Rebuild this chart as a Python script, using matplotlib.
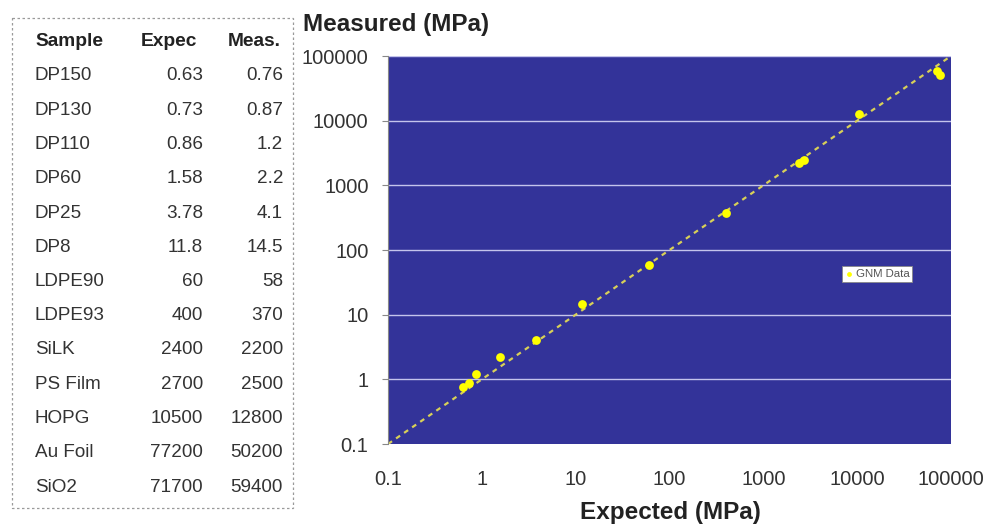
import matplotlib
matplotlib.use("Agg")
import matplotlib.pyplot as plt
from matplotlib.patches import Rectangle
from matplotlib.ticker import FixedLocator, FixedFormatter, NullLocator

plt.rcParams["font.family"] = ["Liberation Sans", "DejaVu Sans"]

samples = ["DP150", "DP130", "DP110", "DP60", "DP25", "DP8", "LDPE90", "LDPE93",
           "SiLK", "PS Film", "HOPG", "Au Foil", "SiO2"]
expected = [0.63, 0.73, 0.86, 1.58, 3.78, 11.8, 60, 400, 2400, 2700, 10500, 77200, 71700]
measured = [0.76, 0.87, 1.2, 2.2, 4.1, 14.5, 58, 370, 2200, 2500, 12800, 50200, 59400]
expected_txt = ["0.63", "0.73", "0.86", "1.58", "3.78", "11.8", "60", "400", "2400",
                "2700", "10500", "77200", "71700"]
measured_txt = ["0.76", "0.87", "1.2", "2.2", "4.1", "14.5", "58", "370", "2200",
                "2500", "12800", "50200", "59400"]
decades = [0.1, 1, 10, 100, 1000, 10000, 100000]
decade_labels = ["0.1", "1", "10", "100", "1000", "10000", "100000"]

W, H = 989, 529
fig = plt.figure(figsize=(W / 100, H / 100), dpi=100)
txt = "#333333"

# table on the left
tab = fig.add_axes([0, 0, 1, 1])
tab.set_xlim(0, W)
tab.set_ylim(H, 0)
tab.axis("off")
tab.add_patch(Rectangle((12, 18), 281, 490, fill=False, ls=(0, (2, 2)),
                        ec="#9a9a9a", lw=0.9))
tab.text(35, 42, "Sample", fontsize=13.8, fontweight="bold", color="#222222", va="center")
tab.text(197, 42, "Expec", fontsize=13.8, fontweight="bold", color="#222222", va="center", ha="right")
tab.text(281, 42, "Meas.", fontsize=13.8, fontweight="bold", color="#222222", va="center", ha="right")
for i, (s, e, m) in enumerate(zip(samples, expected_txt, measured_txt)):
    y = 76 + i * 34.25
    tab.text(35, y, s, fontsize=13.6, color=txt, va="center")
    tab.text(203, y, e, fontsize=13.6, color=txt, va="center", ha="right")
    tab.text(283, y, m, fontsize=13.6, color=txt, va="center", ha="right")

# scatter chart
ax = fig.add_axes([388 / W, 1 - 444 / H, (951 - 388) / W, (444 - 56) / H])
ax.set_facecolor("#333399")
ax.set_xscale("log")
ax.set_yscale("log")
ax.set_xlim(0.1, 100000)
ax.set_ylim(0.1, 100000)
for d in decades[1:]:
    ax.axhline(d, color="#c4c4ec", lw=1.0, zorder=1)
ax.plot([0.1, 100000], [0.1, 100000], color="#d8d058", ls=(0, (2.2, 2.2)), lw=1.6, zorder=2)
ax.scatter(expected, measured, s=40, color="#ffff00", zorder=3, label="GNM Data",
           linewidths=0)

ax.xaxis.set_major_locator(FixedLocator(decades))
ax.xaxis.set_major_formatter(FixedFormatter(decade_labels))
ax.yaxis.set_major_locator(FixedLocator(decades))
ax.yaxis.set_major_formatter(FixedFormatter(decade_labels))
ax.xaxis.set_minor_locator(NullLocator())
ax.yaxis.set_minor_locator(NullLocator())
ax.tick_params(axis="x", length=0, pad=19, labelsize=14.5, labelcolor=txt)
ax.tick_params(axis="y", length=4, color="#888888", pad=10, labelsize=14.5, labelcolor=txt)
for sp in ax.spines.values():
    sp.set_visible(False)
ax.spines["left"].set_visible(True)
ax.spines["left"].set_color("#888888")

leg = ax.legend(loc="center", bbox_to_anchor=((877 - 388) / 563, (444 - 274) / 388),
                fontsize=8.2, frameon=True, fancybox=False, handletextpad=0.15,
                borderpad=0.25, markerscale=0.55, handlelength=0.8, borderaxespad=0)
leg.get_frame().set_edgecolor("#888888")
leg.get_frame().set_facecolor("white")
leg.get_frame().set_alpha(1)
leg.get_frame().set_linewidth(0.6)
for t in leg.get_texts():
    t.set_color("#555555")

fig.text(303 / W, 1 - 25 / H, "Measured (MPa)", fontsize=17.5, fontweight="bold",
         color="#222222", va="center", ha="left")
fig.text(670 / W, 1 - 512 / H, "Expected (MPa)", fontsize=17.5, fontweight="bold",
         color="#222222", va="center", ha="center")

fig.savefig("out.png", dpi=100)
